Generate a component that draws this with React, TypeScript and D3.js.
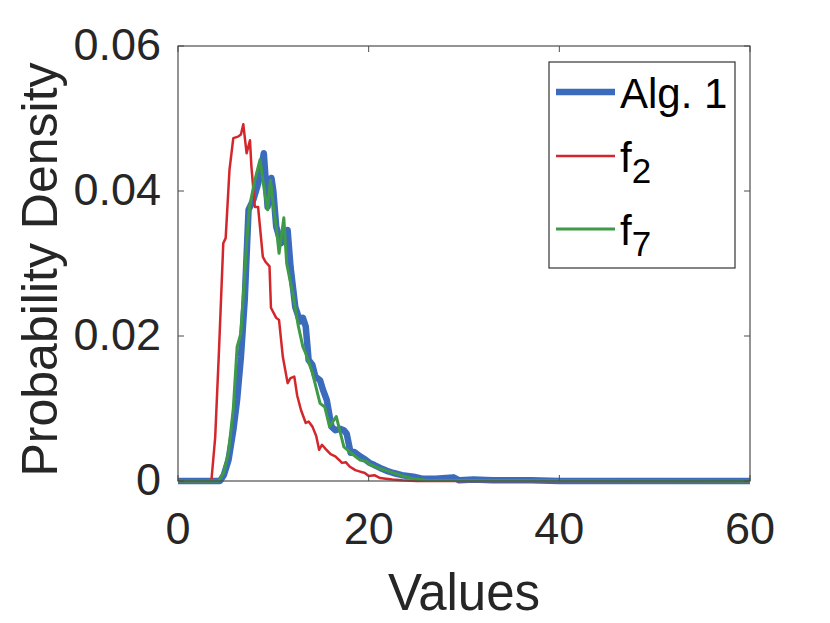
import { useEffect, useRef } from "react";
import { select, scaleLinear, line, curveLinear } from "d3";

const algX = [0, 4.4, 4.8, 5.3, 5.8, 6.2, 6.6, 7.0, 7.4, 7.9, 8.4, 8.7, 9.0, 9.4, 9.8, 10.0, 10.3, 10.8, 11.2, 11.5, 11.8, 12.3, 12.8, 13.1, 13.4, 13.7, 14.1, 14.4, 14.9, 15.2, 15.6, 16.1, 16.5, 17.0, 17.4, 17.7, 18.1, 18.5, 19.1, 19.6, 20.1, 20.6, 21.2, 21.9, 22.6, 23.5, 24.7, 25.7, 27, 28.9, 29.5, 31, 33, 35, 37, 40, 45, 50, 60];
const algY = [0, 0, 0.0008, 0.0029, 0.007, 0.0112, 0.0171, 0.025, 0.0374, 0.0388, 0.041, 0.043, 0.0452, 0.0378, 0.0418, 0.040, 0.0351, 0.0328, 0.0335, 0.0346, 0.0296, 0.024, 0.022, 0.0225, 0.0213, 0.0167, 0.016, 0.0144, 0.0139, 0.0126, 0.0112, 0.0075, 0.007, 0.0072, 0.007, 0.0065, 0.0039, 0.004, 0.0034, 0.003, 0.0025, 0.0022, 0.0018, 0.0014, 0.0011, 0.0008, 0.0006, 0.0003, 0.0003, 0.0005, 0.0001, 0.0002, 0.0001, 0.0001, 0.0001, 0, 0, 0, 0];

const f2X = [0, 3.5, 3.9, 4.3, 4.75, 5.0, 5.4, 5.8, 6.3, 6.6, 6.85, 7.2, 7.55, 7.7, 8.06, 8.4, 8.9, 9.2, 9.6, 9.75, 10.3, 10.6, 11.0, 11.5, 11.8, 12.2, 12.5, 12.9, 13.4, 13.7, 14.1, 14.5, 14.8, 15.1, 15.5, 16.0, 16.5, 16.9, 17.2, 17.6, 18.0, 18.6, 19.1, 19.6, 20.0, 20.6, 21.2, 21.8, 22.5, 23.5, 25, 60];
const f2Y = [0, 0, 0.006, 0.018, 0.0328, 0.0335, 0.0429, 0.0473, 0.0475, 0.0478, 0.0492, 0.0452, 0.047, 0.0434, 0.0378, 0.0378, 0.0309, 0.0302, 0.0296, 0.0239, 0.0225, 0.0222, 0.0171, 0.0135, 0.0142, 0.0144, 0.0118, 0.0098, 0.008, 0.0082, 0.0075, 0.0062, 0.0043, 0.005, 0.0044, 0.0037, 0.0034, 0.0029, 0.0025, 0.0026, 0.002, 0.0015, 0.0013, 0.0011, 0.0007, 0.0008, 0.0004, 0.0003, 0.0002, 0.0001, 0, 0];

const f7X = [0, 4.3, 4.8, 5.3, 5.8, 6.2, 6.6, 7.2, 7.5, 8.06, 8.6, 9.1, 9.4, 9.7, 10.0, 10.3, 10.6, 11.1, 11.4, 12.1, 12.6, 13.1, 13.4, 14.1, 14.9, 15.4, 15.9, 16.6, 17.4, 18.1, 19.1, 19.8, 20.1, 21, 22.2, 23.3, 24.7, 26, 60];
const f7Y = [0, 0, 0.0012, 0.004, 0.01, 0.0185, 0.0204, 0.0328, 0.0378, 0.0415, 0.0443, 0.0397, 0.0374, 0.0415, 0.038, 0.0351, 0.0314, 0.0363, 0.03, 0.0254, 0.0215, 0.0185, 0.0176, 0.0149, 0.0107, 0.0102, 0.0075, 0.0089, 0.0047, 0.0039, 0.0029, 0.0027, 0.0023, 0.0018, 0.0013, 0.0008, 0.0003, 0.0001, 0];

const xTicks = [0, 20, 40, 60];
const yTicks = [0, 0.02, 0.04, 0.06];
const yTickLabels = ["0", "0.02", "0.04", "0.06"];

const series = [
  { name: "Alg. 1", sub: "", xs: algX, ys: algY, color: "#3a6bbd", width: 6.5 },
  { name: "f", sub: "2", xs: f2X, ys: f2Y, color: "#d3272b", width: 2.5 },
  { name: "f", sub: "7", xs: f7X, ys: f7Y, color: "#3f9a48", width: 3 },
];

const W = 830;
const H = 623;
const left = 178, right = 750, top = 46, bottom = 481;
const font = "'Liberation Sans', Arial, Helvetica, sans-serif";
const ink = "#262626";

const App = () => {
  const svgRef = useRef<SVGSVGElement>(null);

  useEffect(() => {
    const svg = select(svgRef.current);
    svg.selectAll("*").remove();

    const x: any = scaleLinear().domain([0, 60]).range([left, right]);
    const y: any = scaleLinear().domain([0, 0.06]).range([bottom, top]);

    svg.append("rect").attr("width", W).attr("height", H).attr("fill", "white");

    svg.append("defs").append("clipPath").attr("id", "plot-clip")
      .append("rect")
      .attr("x", left - 4).attr("y", top)
      .attr("width", right - left + 4).attr("height", bottom - top + 6);

    // lines
    const g = svg.append("g").attr("clip-path", "url(#plot-clip)");
    series.forEach((s) => {
      const pts: [number, number][] = s.xs.map((v, i) => [v, s.ys[i]]);
      const gen: any = line()
        .x((d: any) => x(d[0]))
        .y((d: any) => y(d[1]))
        .curve(curveLinear);
      g.append("path")
        .attr("d", gen(pts))
        .attr("fill", "none")
        .attr("stroke", s.color)
        .attr("stroke-width", s.width)
        .attr("stroke-linejoin", "round");
    });

    // box
    svg.append("rect")
      .attr("x", left).attr("y", top)
      .attr("width", right - left).attr("height", bottom - top)
      .attr("fill", "none").attr("stroke", "#4d4d4d").attr("stroke-width", 1.2);

    // ticks (inward, on all four sides)
    const tl = 6;
    xTicks.forEach((t) => {
      svg.append("line").attr("x1", x(t)).attr("x2", x(t)).attr("y1", bottom).attr("y2", bottom - tl)
        .attr("stroke", "#4d4d4d");
      svg.append("line").attr("x1", x(t)).attr("x2", x(t)).attr("y1", top).attr("y2", top + tl)
        .attr("stroke", "#4d4d4d");
      svg.append("text")
        .attr("x", x(t)).attr("y", 544)
        .attr("text-anchor", "middle")
        .attr("font-family", font).attr("font-size", 45).attr("fill", ink)
        .text(String(t));
    });
    yTicks.forEach((t, i) => {
      svg.append("line").attr("x1", left).attr("x2", left + tl).attr("y1", y(t)).attr("y2", y(t))
        .attr("stroke", "#4d4d4d");
      svg.append("line").attr("x1", right).attr("x2", right - tl).attr("y1", y(t)).attr("y2", y(t))
        .attr("stroke", "#4d4d4d");
      svg.append("text")
        .attr("x", 161).attr("y", y(t) + 14)
        .attr("text-anchor", "end")
        .attr("font-family", font).attr("font-size", 45).attr("fill", ink)
        .text(yTickLabels[i]);
    });

    // axis titles
    svg.append("text")
      .attr("x", (left + right) / 2).attr("y", 610)
      .attr("text-anchor", "middle")
      .attr("font-family", font).attr("font-size", 51).attr("fill", ink)
      .text("Values");
    svg.append("text")
      .attr("transform", `translate(57, ${(top + bottom) / 2 + 6}) rotate(-90)`)
      .attr("text-anchor", "middle")
      .attr("font-family", font).attr("font-size", 50).attr("fill", ink)
      .text("Probability Density");

    // legend
    const lg = svg.append("g");
    lg.append("rect")
      .attr("x", 549).attr("y", 62).attr("width", 186).attr("height", 206)
      .attr("fill", "white").attr("stroke", "#333").attr("stroke-width", 1.2);
    const rowY = [92, 156, 229];
    series.forEach((s, i) => {
      lg.append("line")
        .attr("x1", 556).attr("x2", 615).attr("y1", rowY[i]).attr("y2", rowY[i])
        .attr("stroke", s.color).attr("stroke-width", s.width);
      const txt = lg.append("text")
        .attr("x", 620).attr("y", rowY[i] + 16)
        .attr("font-family", font).attr("font-size", 42).attr("fill", "black");
      txt.append("tspan").text(s.name);
      if (s.sub) {
        txt.append("tspan").attr("dy", 11).attr("font-size", 35).text(s.sub);
      }
    });
  }, []);

  return <svg ref={svgRef} width={W} height={H} style={{ display: "block", margin: "-8px" }} />;
};

export default App;
